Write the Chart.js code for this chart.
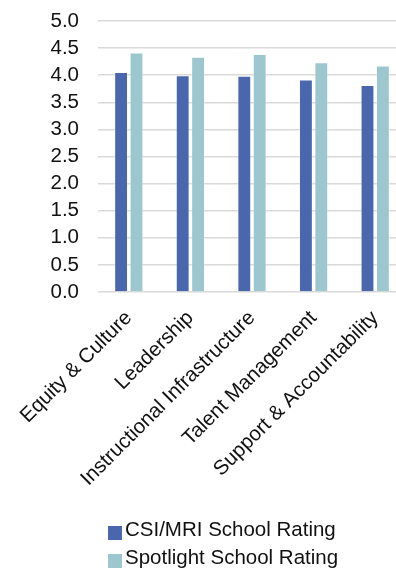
<!DOCTYPE html>
<html>
<head>
<meta charset="utf-8">
<script src="https://cdn.jsdelivr.net/npm/chart.js@4/dist/chart.umd.min.js"></script>
<style>
  html, body { margin: 0; padding: 0; background: #fff; overflow: hidden; }
  #wrap { position: relative; width: 410px; height: 569px; }
  #legend {
    position: absolute; left: 108px; top: 515px;
    font-family: 'Liberation Sans', Arial, sans-serif; font-size: 20.5px; color: #111;
  }
  .item { position: relative; height: 27.6px; line-height: 27.6px; padding-left: 17px; white-space: nowrap; }
  .swatch { position: absolute; left: 0; top: 11px; width: 14px; height: 14px; }
</style>
</head>
<body>
<div id="wrap">
  <canvas id="c" width="410" height="569"></canvas>
  <div id="legend"></div>
</div>
<script>
// Domain ratings per school group
const categories = [
  'Equity & Culture',
  'Leadership',
  'Instructional Infrastructure',
  'Talent Management',
  'Support & Accountability'
];
const csiMriRating = [4.06, 4.00, 3.99, 3.92, 3.82];
const spotlightRating = [4.42, 4.34, 4.39, 4.24, 4.18];
const yTicks = [0, 0.5, 1, 1.5, 2, 2.5, 3, 3.5, 4, 4.5, 5];

const FONT = "'Liberation Sans', Arial, sans-serif";
const TEXT = '#111111';
const SIZE = 20.5;

const chart = new Chart(document.getElementById('c'), {
  type: 'bar',
  data: {
    labels: categories,
    datasets: [
      {
        label: 'CSI/MRI School Rating',
        data: csiMriRating,
        backgroundColor: '#4A66AC',
        borderColor: 'rgba(255,255,255,0.35)',
        borderWidth: 1,
        categoryPercentage: 0.5,
        barPercentage: 0.9
      },
      {
        label: 'Spotlight School Rating',
        data: spotlightRating,
        backgroundColor: '#9DC7CE',
        borderColor: 'rgba(255,255,255,0.35)',
        borderWidth: 1,
        categoryPercentage: 0.5,
        barPercentage: 0.9
      }
    ]
  },
  options: {
    responsive: false,
    animation: false,
    devicePixelRatio: 1,
    layout: { padding: { left: 0, right: 4, top: 21, bottom: 0 } },
    plugins: {
      tooltip: { enabled: false },
      legend: { display: false }
    },
    scales: {
      x: {
        afterFit: (scale) => { scale.height = 277; },
        grid: { display: false, drawTicks: false },
        border: { display: false },
        ticks: {
          font: { family: FONT, size: SIZE },
          color: TEXT,
          maxRotation: 45,
          minRotation: 45,
          padding: 14,
          autoSkip: false
        }
      },
      y: {
        min: 0,
        max: 5,
        afterBuildTicks: (scale) => { scale.ticks = yTicks.map(v => ({ value: v })); },
        afterFit: (scale) => {
          scale.width = 98;
          scale.paddingTop = 0;
          scale.paddingBottom = 0;
        },
        grid: { color: '#d9d9d9', lineWidth: 1.5, drawTicks: false },
        border: { display: false },
        ticks: {
          font: { family: FONT, size: SIZE },
          color: TEXT,
          padding: 19,
          autoSkip: false,
          callback: (v) => Number(v).toFixed(1)
        }
      }
    }
  }
});

// Legend built from the chart's own datasets
const legend = document.getElementById('legend');
chart.data.datasets.forEach(ds => {
  const row = document.createElement('div');
  row.className = 'item';
  const sw = document.createElement('span');
  sw.className = 'swatch';
  sw.style.background = ds.backgroundColor;
  row.appendChild(sw);
  row.appendChild(document.createTextNode(ds.label));
  legend.appendChild(row);
});
</script>
</body>
</html>
